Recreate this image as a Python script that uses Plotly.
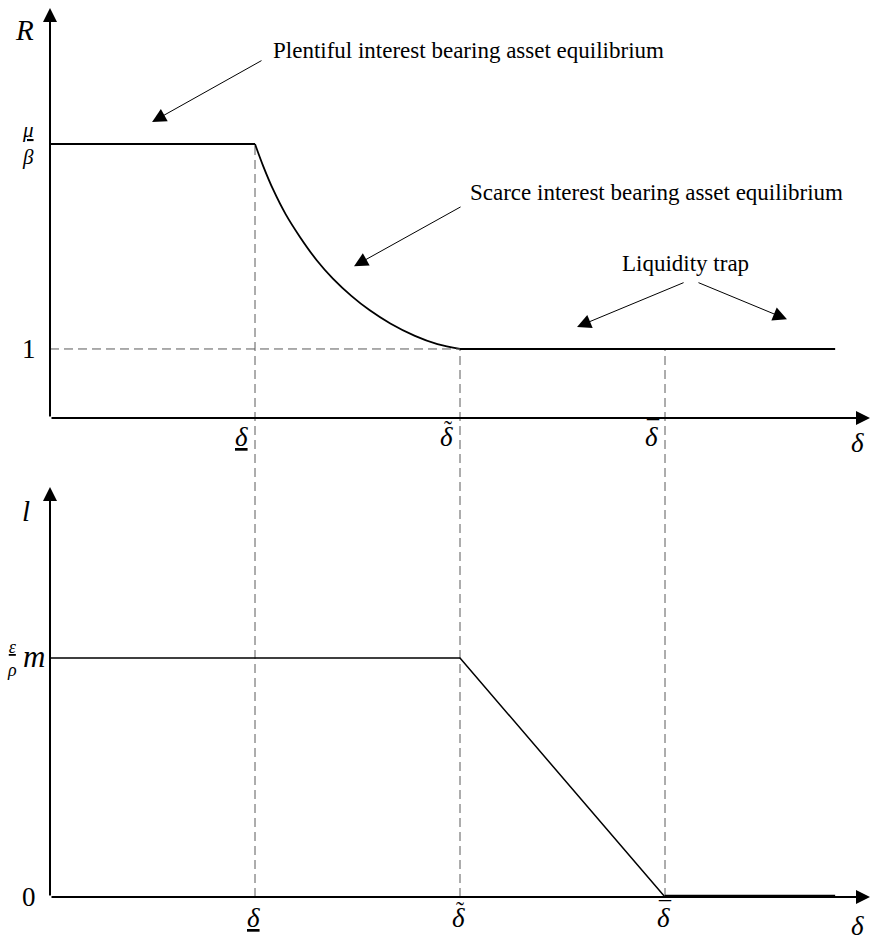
import plotly.graph_objects as go

# ---------------- data ----------------
delta_ticks = [1.0, 2.0, 3.0]            # underline-delta, tilde-delta, bar-delta
delta_tick_text = ["<u>δ</u>", "δ", "δ"]
delta_tick_accent = ["", "˜", "¯"]
delta_axis_end = 4.0                      # arrow tip of the delta axis
delta_axis_label = 3.94
delta_line_end = 3.83                     # where the plotted lines stop

R_high = 3.97                             # mu / beta
R_low = 1.0
R_top = 5.94                              # top of R axis (arrow tip)

curve_delta = [1.00, 1.04, 1.09, 1.15, 1.22, 1.30, 1.38, 1.47, 1.56, 1.66, 1.78, 1.89, 2.00]
curve_R     = [3.97, 3.65, 3.30, 2.95, 2.62, 2.29, 2.02, 1.77, 1.56, 1.37, 1.19, 1.07, 1.00]

l_high = 1.0                              # (epsilon/rho) m
l_zero = 0.0
l_top = 1.7155                            # top of l axis (arrow tip)
l_delta = [0.0, 2.0, 3.0]
l_vals = [1.0, 1.0, 0.0]

# callout annotations: (text x, text y, anchor) and arrows (tail -> tip), top panel data units
callout_texts = ["Plentiful interest bearing asset equilibrium",
                 "Scarce interest bearing asset equilibrium",
                 "Liquidity trap"]
callout_text_pos = [(1.08, 5.32, "left"), (2.04, 3.27, "left"), (3.10, 2.24, "center")]
callout_arrows = [((1.039, 5.19), (0.498, 4.29)),
                  ((2.010, 3.07), (1.483, 2.20)),
                  ((3.098, 1.97), (2.571, 1.32)),
                  ((3.156, 1.97), (3.595, 1.43))]

# ---------------- figure ----------------
W, H = 873, 945
m_l, m_r, m_t, m_b = 50, 3, 8, 48
top_dom = [0.5388, 1.0]
bot_dom = [0.0, 0.4612]

SERIF = "Liberation Serif, Times New Roman, serif"
BLACK = "#000000"
DASH = "#5a5a5a"

fig = go.Figure()

# top panel lines
fig.add_trace(go.Scatter(x=[0, curve_delta[0]], y=[R_high, R_high], mode="lines",
                         line=dict(color=BLACK, width=1.8), xaxis="x", yaxis="y"))
fig.add_trace(go.Scatter(x=curve_delta, y=curve_R, mode="lines",
                         line=dict(color=BLACK, width=1.8, shape="spline", smoothing=1.0),
                         xaxis="x", yaxis="y"))
fig.add_trace(go.Scatter(x=[delta_ticks[1], delta_line_end], y=[R_low, R_low], mode="lines",
                         line=dict(color=BLACK, width=1.8), xaxis="x", yaxis="y"))
# dashed horizontal at R = 1
fig.add_trace(go.Scatter(x=[0, delta_ticks[1]], y=[R_low, R_low], mode="lines",
                         line=dict(color=DASH, width=1, dash="9px,5px"), xaxis="x", yaxis="y"))

# bottom panel lines
fig.add_trace(go.Scatter(x=l_delta, y=l_vals, mode="lines",
                         line=dict(color=BLACK, width=1.5), xaxis="x2", yaxis="y2"))
fig.add_trace(go.Scatter(x=[delta_ticks[2], delta_line_end], y=[l_zero, l_zero], mode="lines",
                         line=dict(color=BLACK, width=4.5), xaxis="x2", yaxis="y2"))


def top_paper(v):
    return top_dom[0] + (v / R_top) * (top_dom[1] - top_dom[0])


def bot_paper(v):
    return bot_dom[0] + (v / l_top) * (bot_dom[1] - bot_dom[0])


# vertical dashed guide lines spanning both panels
R_at_ticks = [R_high, R_low, R_low]
for xv, rv in zip(delta_ticks, R_at_ticks):
    fig.add_shape(type="line", xref="x", yref="paper", x0=xv, x1=xv,
                  y0=bot_paper(l_zero), y1=top_paper(rv),
                  line=dict(color=DASH, width=1, dash="9px,5px"), layer="below")

ann = []
# axis arrows
for xr, yr, top in (("x", "y", R_top), ("x2", "y2", l_top)):
    ann.append(dict(x=0, y=top, ax=0, ay=0, xref=xr, yref=yr, axref=xr, ayref=yr,
                    text="", showarrow=True, arrowhead=2, arrowsize=1.4, arrowwidth=2,
                    arrowcolor=BLACK, standoff=0, startstandoff=0))
    ann.append(dict(x=delta_axis_end, y=0, ax=0, ay=0, xref=xr, yref=yr, axref=xr, ayref=yr,
                    text="", showarrow=True, arrowhead=2, arrowsize=1.4, arrowwidth=2,
                    arrowcolor=BLACK, standoff=0, startstandoff=0))

# callout arrows
for (tail, tip) in callout_arrows:
    ann.append(dict(x=tip[0], y=tip[1], ax=tail[0], ay=tail[1], xref="x", yref="y",
                    axref="x", ayref="y", text="", showarrow=True, arrowhead=2,
                    arrowsize=2.8, arrowwidth=1, arrowcolor=BLACK, standoff=0))
# callout texts
for txt, (tx, ty, anc) in zip(callout_texts, callout_text_pos):
    ann.append(dict(x=tx, y=ty, xref="x", yref="y", text=txt, showarrow=False,
                    xanchor=anc, yanchor="middle", font=dict(family=SERIF, size=23, color=BLACK)))

MATH = dict(family=SERIF, size=27, color=BLACK)
ACC = dict(family=SERIF, size=24, color=BLACK)
# delta tick labels
for v, t, a in zip(delta_ticks + [delta_axis_label], delta_tick_text + ["δ"], delta_tick_accent + [""]):
    for xr, yr, xs, ys in (("x", "y", -14, -2), ("x2", "y2", -2, -4)):
        if v == delta_axis_label:
            xs, ys = 0, (-8 if xr == "x" else -12)
        ann.append(dict(x=v, y=0, xref=xr, yref=yr, text="<i>" + t + "</i>", showarrow=False,
                        xanchor="center", yanchor="top", xshift=xs, yshift=ys, font=MATH))
        if a:
            ann.append(dict(x=v, y=0, xref=xr, yref=yr, text=a, showarrow=False,
                            xanchor="center", yanchor="top", xshift=xs + 2, yshift=ys + 6, font=ACC))

# y labels
ann.append(dict(x=0, y=R_top, xref="x", yref="y", text="<i>R</i>", showarrow=False,
                xanchor="right", yanchor="top", xshift=-14, yshift=-4,
                font=dict(family=SERIF, size=29, color=BLACK)))
ann.append(dict(x=0, y=l_top, xref="x2", yref="y2", text="<i>l</i>", showarrow=False,
                xanchor="right", yanchor="top", xshift=-18, yshift=-6,
                font=dict(family=SERIF, size=29, color=BLACK)))
ann.append(dict(x=0, y=R_low, xref="x", yref="y", text="1", showarrow=False,
                xanchor="right", yanchor="middle", xshift=-12, font=MATH))
ann.append(dict(x=0, y=l_zero, xref="x2", yref="y2", text="0", showarrow=False,
                xanchor="right", yanchor="middle", xshift=-12, font=MATH))
ann.append(dict(x=0, y=R_high, xref="x", yref="y", text="<i><u>μ</u></i><br><i>β</i>",
                showarrow=False, xanchor="right", yanchor="middle", xshift=-14, yshift=0,
                font=dict(family=SERIF, size=21, color=BLACK)))
ann.append(dict(x=0, y=l_high, xref="x2", yref="y2", text="<i><u>ε</u></i><br><i>ρ</i>",
                showarrow=False, xanchor="right", yanchor="middle", xshift=-31,
                font=dict(family=SERIF, size=18, color=BLACK)))
ann.append(dict(x=0, y=l_high, xref="x2", yref="y2", text="<i>m</i>",
                showarrow=False, xanchor="right", yanchor="middle", xshift=-3, yshift=2,
                font=dict(family=SERIF, size=31, color=BLACK)))

axis_common = dict(showgrid=False, zeroline=False, showline=False, showticklabels=False,
                   ticks="", fixedrange=True)
fig.update_layout(
    width=W, height=H,
    margin=dict(l=m_l, r=m_r, t=m_t, b=m_b),
    paper_bgcolor="white", plot_bgcolor="white",
    showlegend=False,
    xaxis=dict(range=[0, delta_axis_end], domain=[0, 1], anchor="y", **axis_common),
    yaxis=dict(range=[0, R_top], domain=top_dom, anchor="x", **axis_common),
    xaxis2=dict(range=[0, delta_axis_end], domain=[0, 1], anchor="y2", matches="x", **axis_common),
    yaxis2=dict(range=[0, l_top], domain=bot_dom, anchor="x2", **axis_common),
    annotations=ann,
)
fig.update_traces(hoverinfo="skip")

fig.write_html("out.html", config={"displayModeBar": False},
               post_script="document.body.style.margin='0';document.body.style.overflow='hidden';")
